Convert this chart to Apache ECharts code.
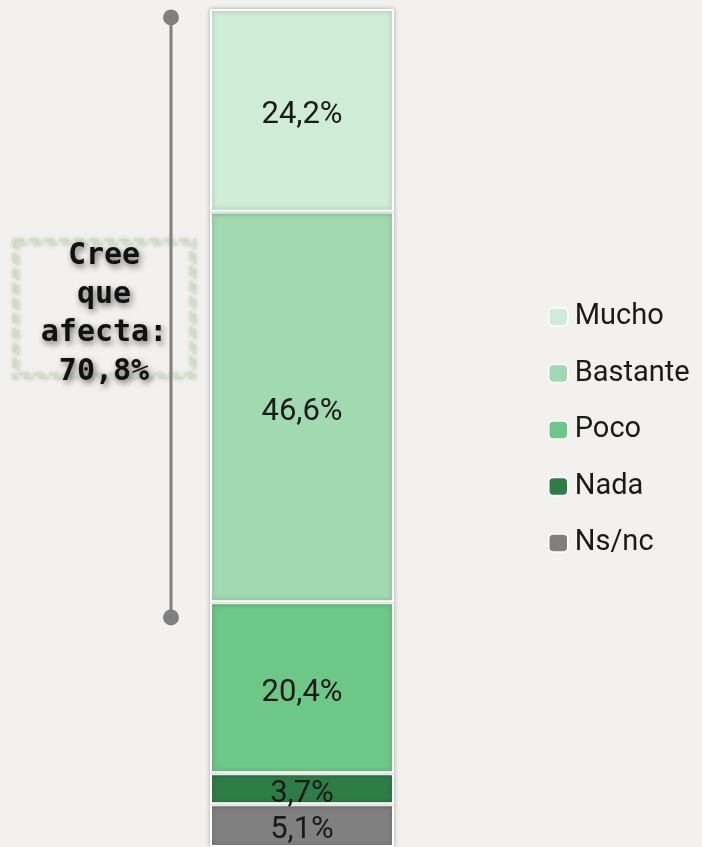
<!DOCTYPE html>
<html>
<head>
<meta charset="utf-8">
<script src="https://cdn.jsdelivr.net/npm/echarts@6/dist/echarts.min.js"></script>
<style>
  html, body { margin: 0; padding: 0; background: #f2f1ef; }
  #chart { width: 702px; height: 847px; }
</style>
</head>
<body>
<div id="chart"></div>
<script>
// datos (de abajo a arriba en la pila)
var categories = ['Ns/nc', 'Nada', 'Poco', 'Bastante', 'Mucho']
var values = [5.1, 3.7, 20.4, 46.6, 24.2]
var colors = ['#808080', '#2e7d46', '#6dc787', '#a1dab0', '#cfecd6']
var legendOrder = ['Mucho', 'Bastante', 'Poco', 'Nada', 'Ns/nc']

// corchete "Cree que afecta" (Mucho + Bastante)
var bracketEnds = [99.0, 27.4]
var bracketText = 'Cree\nque\nafecta:\n70,8%'

var chart = echarts.init(document.getElementById('chart'))

var fmt = function(v) { return v.toFixed(1).replace('.', ',') + '%' }

var barSeries = categories.map(function(name, i) {
  return {
    name: name,
    type: 'bar',
    stack: 'total',
    xAxisIndex: 0,
    yAxisIndex: 0,
    barWidth: '100%',
    data: [values[i]],
    itemStyle: {
      color: colors[i],
      borderColor: '#ffffff',
      borderWidth: 2,
      shadowBlur: 5,
      shadowColor: 'rgba(0,0,0,0.25)'
    },
    label: {
      show: true,
      position: 'inside',
      offset: [0, 5],
      fontFamily: 'Roboto',
      fontSize: 31,
      color: '#1a1a1a',
      formatter: function(p) { return fmt(p.value) }
    },
    emphasis: { disabled: true }
  }
})

chart.setOption({
  backgroundColor: '#f2f1ef',
  animation: false,
  grid: [
    { left: 210, width: 184, top: 9, height: 841 },
    { left: 150, width: 42, top: 9, height: 841 }
  ],
  xAxis: [
    { type: 'category', data: ['total'], show: false, gridIndex: 0 },
    { type: 'value', min: 0, max: 1, show: false, gridIndex: 1 }
  ],
  yAxis: [
    { type: 'value', min: 0, max: 100, show: false, gridIndex: 0 },
    { type: 'value', min: 0, max: 100, show: false, gridIndex: 1 }
  ],
  legend: {
    data: legendOrder,
    orient: 'vertical',
    left: 548,
    top: 302,
    padding: 0,
    itemWidth: 19,
    itemHeight: 18,
    itemGap: 26.5,
    itemStyle: { borderColor: '#ffffff', borderWidth: 1.5 },
    textStyle: { fontFamily: 'Roboto', fontSize: 29, color: '#1a1a1a', lineHeight: 30, padding: [0, 0, 0, 2] },
    selectedMode: false
  },
  graphic: [
    {
      type: 'rect',
      shape: { x: 14, y: 240, width: 181, height: 138 },
      style: { fill: 'none', stroke: '#c9e5bd', lineWidth: 2, lineDash: [10, 5], shadowBlur: 4, shadowColor: 'rgba(0,0,0,0.25)' },
      z: 1
    },
    {
      type: 'rect',
      shape: { x: 18, y: 244, width: 173, height: 130 },
      style: { fill: 'none', stroke: '#c9e5bd', lineWidth: 2, lineDash: [10, 5], shadowBlur: 4, shadowColor: 'rgba(0,0,0,0.25)' },
      z: 1
    },
    {
      type: 'text',
      x: 104,
      y: 237,
      z: 10,
      style: {
        text: bracketText,
        align: 'center',
        verticalAlign: 'top',
        fontFamily: 'DejaVu Sans Mono',
        fontWeight: 'bold',
        fontSize: 30,
        lineHeight: 38.5,
        fill: '#111111',
        textShadowColor: 'rgba(0,0,0,0.55)',
        textShadowBlur: 6,
        textShadowOffsetX: 2,
        textShadowOffsetY: 3
      }
    }
  ],
  series: barSeries.concat([
    {
      type: 'line',
      xAxisIndex: 1,
      yAxisIndex: 1,
      data: [[0.5, bracketEnds[0]], [0.5, bracketEnds[1]]],
      symbol: 'circle',
      symbolSize: 16,
      lineStyle: { color: '#808080', width: 3 },
      itemStyle: { color: '#808080' },
      z: 5,
      silent: true
    }
  ])
})
</script>
</body>
</html>
